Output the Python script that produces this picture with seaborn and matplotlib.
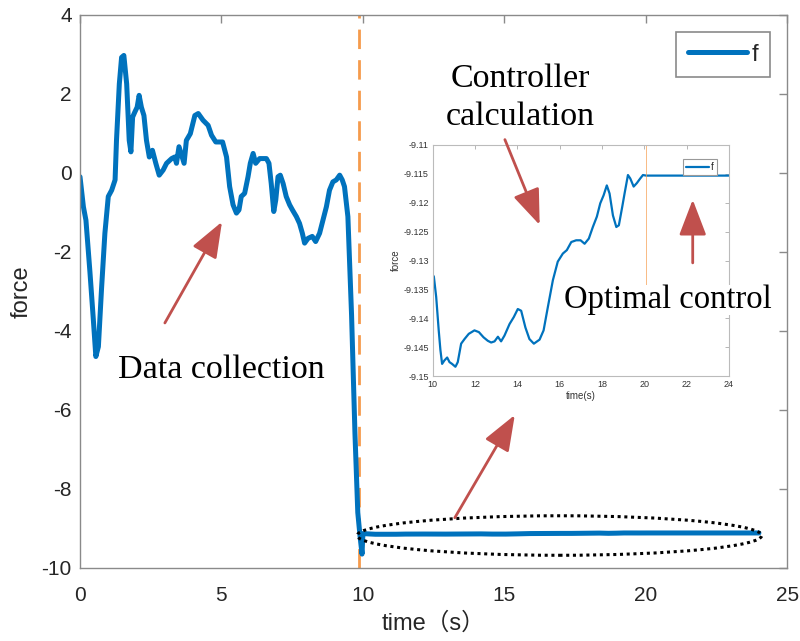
import numpy as np
import pandas as pd
import seaborn as sns
import matplotlib
matplotlib.use("Agg")
import matplotlib.pyplot as plt
from matplotlib.patches import Ellipse, FancyArrowPatch

# ---- data ---------------------------------------------------------------
# data-collection phase (0-10 s)
t_collect = [0.0, 0.12, 0.21, 0.35, 0.47, 0.56, 0.65, 0.76, 0.88, 1.0, 1.12, 1.24,
             1.29, 1.39, 1.47, 1.55, 1.65, 1.74, 1.8, 1.86, 1.94, 2.02, 2.09, 2.17,
             2.26, 2.35, 2.45, 2.56, 2.68, 2.8, 2.94, 3.06, 3.24, 3.35, 3.41, 3.5,
             3.59, 3.68, 3.76, 3.9, 4.06, 4.18, 4.35, 4.53, 4.65, 4.8, 5.04, 5.18,
             5.29, 5.41, 5.53, 5.62, 5.7, 5.82, 5.94, 6.02, 6.12, 6.21, 6.35, 6.59,
             6.68, 6.76, 6.85, 6.92, 7.0, 7.08, 7.18, 7.29, 7.41, 7.51, 7.65, 7.76,
             7.86, 7.94, 8.06, 8.21, 8.33, 8.47, 8.59, 8.71, 8.82, 8.94, 9.06, 9.18,
             9.27, 9.35, 9.47, 9.6, 9.72, 9.82, 9.9, 9.97]
f_collect = [-0.1, -0.86, -1.2, -2.5, -3.7, -4.65, -4.4, -2.95, -1.53, -0.6, -0.44, -0.18,
             0.82, 2.25, 2.92, 2.97, 2.25, 0.82, 0.53, 1.41, 1.54, 1.66, 1.96, 1.66,
             1.45, 0.82, 0.4, 0.57, 0.24, -0.06, 0.07, 0.24, 0.36, 0.4, 0.24, 0.66,
             0.45, 0.24, 0.82, 0.99, 1.45, 1.5, 1.33, 1.2, 0.95, 0.78, 0.78, 0.4,
             -0.35, -0.81, -1.02, -0.94, -0.6, -0.52, -0.1, 0.24, 0.49, 0.24, 0.36, 0.36,
             0.24, -0.27, -0.98, -0.69, -0.1, -0.06, -0.27, -0.6, -0.81, -0.94, -1.11, -1.28,
             -1.53, -1.78, -1.66, -1.61, -1.74, -1.53, -1.19, -0.86, -0.44, -0.23, -0.18, -0.06,
             -0.18, -0.35, -1.11, -3.6, -6.6, -8.6, -9.2, -9.65]

# controller-calculation phase (10-20 s)
t_ctrl = [10.0, 10.05, 10.16, 10.28, 10.36, 10.44, 10.55, 10.68, 10.79, 10.91, 11.07,
          11.18, 11.34, 11.5, 11.7, 11.97, 12.18, 12.4, 12.6, 12.76, 12.92, 13.08,
          13.23, 13.39, 13.63, 13.83, 14.02, 14.18, 14.38, 14.57, 14.78, 15.05, 15.24,
          15.44, 15.68, 15.91, 16.15, 16.34, 16.55, 16.78, 16.99, 17.18, 17.38, 17.57,
          17.76, 17.92, 18.08, 18.23, 18.36, 18.52, 18.68, 18.8, 18.96, 19.07, 19.23,
          19.34, 19.5, 19.65, 19.81, 19.94, 20.09]
f_ctrl = [-9.1325, -9.1328, -9.1363, -9.1421, -9.1455, -9.1479, -9.1473, -9.1468, -9.1476,
          -9.1479, -9.1484, -9.1476, -9.1444, -9.1436, -9.1427, -9.1421, -9.1424, -9.1433,
          -9.1439, -9.1442, -9.144, -9.1432, -9.144, -9.143, -9.141, -9.1398, -9.1384,
          -9.1387, -9.1416, -9.1436, -9.1444, -9.1437, -9.1421, -9.1381, -9.1334, -9.1302,
          -9.1288, -9.1282, -9.1268, -9.1265, -9.1265, -9.1271, -9.1262, -9.1242, -9.1224,
          -9.1201, -9.1187, -9.117, -9.1184, -9.1222, -9.1242, -9.1239, -9.1207, -9.1184,
          -9.1152, -9.1158, -9.1172, -9.1166, -9.1158, -9.1152, -9.1153]

# optimal-control phase (20-24 s): constant force
t_opt = [20.09, 22.0, 24.0]
f_opt = [-9.1153, -9.1153, -9.1153]

switch_time = 9.85
inset_marker_time = 20.1

x_ticks = [0, 5, 10, 15, 20, 25]
y_ticks = [-10, -8, -6, -4, -2, 0, 2, 4]
inset_x_ticks = [10, 12, 14, 16, 18, 20, 22, 24]
inset_y_ticks = [-9.15, -9.145, -9.14, -9.135, -9.13, -9.125, -9.12, -9.115, -9.11]
inset_y_labels = ["-9.15", "-9.145", "-9.14", "-9.135", "-9.13", "-9.125", "-9.12", "-9.115", "-9.11"]

full = pd.DataFrame({"time": t_collect + t_ctrl + t_opt[1:],
                     "force": f_collect + f_ctrl + f_opt[1:]})
zoomed = pd.DataFrame({"time": t_ctrl + t_opt[1:], "force": f_ctrl + f_opt[1:]})

# ---- style --------------------------------------------------------------
sns.set_style("white")
plt.rcParams["font.family"] = ["Liberation Sans", "Noto Sans CJK SC", "DejaVu Sans"]
plt.rcParams["axes.unicode_minus"] = False

BLUE = "#0072BD"
ORANGE = "#F59B4C"
ARROW = "#C0504D"
FRAME = "#8a8a8a"
TXT = "#262626"

fig = plt.figure(figsize=(8, 6.41), dpi=100)
ax = fig.add_axes([0.1, 0.114, 0.884, 0.863])

sns.lineplot(data=full, x="time", y="force", ax=ax, color=BLUE, linewidth=3.6,
             label="f", estimator=None, sort=False)
ax.axvline(switch_time, color=ORANGE, linewidth=2, dashes=(7, 4), zorder=1)

ax.set_xlim(0, 25)
ax.set_ylim(-10, 4)
ax.set_xticks(x_ticks)
ax.set_yticks(y_ticks)
ax.tick_params(direction="in", length=6, width=1, colors=FRAME, labelcolor=TXT,
               labelsize=15, top=True, right=True, pad=6)
ax.tick_params(axis="x", pad=13)
for s in ax.spines.values():
    s.set_color(FRAME)
    s.set_linewidth(1)
ax.set_xlabel("time（s）", fontsize=17, color=TXT, labelpad=5)
ax.set_ylabel("force", fontsize=17, color=TXT, labelpad=6)

leg = ax.legend(loc="upper right", fontsize=17, handlelength=2.5, handletextpad=0.2,
                fancybox=False, framealpha=1, borderpad=0.5, borderaxespad=0.72)
leg.get_frame().set_edgecolor(FRAME)
leg.get_frame().set_linewidth(1.2)

# dotted ellipse around the steady part
ax.add_patch(Ellipse((16.95, -9.18), width=14.3, height=1.0, fill=False,
                     edgecolor="black", linestyle=(0, (1, 1.2)), linewidth=2.2, zorder=4))

# ---- inset: zoom of the 10-24 s part -----------------------------------
ins = fig.add_axes([0.541, 0.4134, 0.37, 0.3604])
ins.set_facecolor("white")
sns.lineplot(data=zoomed, x="time", y="force", ax=ins, color=BLUE, linewidth=1.6,
             label="f", estimator=None, sort=False)
ins.plot([inset_marker_time, inset_marker_time], [-9.11, -9.1365],
         color=ORANGE, linewidth=0.6, alpha=0.8)
ins.set_xlim(10, 24)
ins.set_ylim(-9.15, -9.11)
ins.set_xticks(inset_x_ticks)
ins.set_yticks(inset_y_ticks)
ins.set_yticklabels(inset_y_labels)
ins.tick_params(direction="in", length=3, width=0.6, colors="#aaaaaa",
                labelcolor="#333333", labelsize=6.5, top=True, right=True, pad=3)
for s in ins.spines.values():
    s.set_color("#bbbbbb")
    s.set_linewidth(0.8)
ins.set_xlabel("time(s)", fontsize=7, color="#333333", labelpad=1)
ins.set_ylabel("force", fontsize=7, color="#333333", labelpad=2)
ileg = ins.legend(loc="upper right", fontsize=7, handlelength=2.4, handletextpad=0.2,
                  fancybox=False, framealpha=1, borderpad=0.3,
                  bbox_to_anchor=(0.975, 0.96))
ileg.get_frame().set_edgecolor("#999999")
ileg.get_frame().set_linewidth(0.8)

# ---- annotations (drawn above both axes) --------------------------------
serif = ["Liberation Serif", "DejaVu Serif"]
fig.text(4.98, -4.99, "Data collection", transform=ax.transData, fontsize=24.5,
         family=serif, ha="center", va="center", color="black", zorder=10)
fig.text(15.55, 1.9, "Controller\ncalculation", transform=ax.transData, fontsize=24.5,
         family=serif, ha="center", va="center", color="black", linespacing=1.35, zorder=10)
fig.text(20.78, -3.22, "Optimal control", transform=ax.transData, fontsize=23.5,
         family=serif, ha="center", va="center", color="black", zorder=10,
         bbox=dict(facecolor="white", edgecolor="none", pad=0))

arrows = [((3.0, -3.8), (5.02, -1.24)),
          ((13.25, -8.73), (15.37, -6.13)),
          ((15.02, 0.84), (16.25, -1.32)),
          ((21.66, -2.28), (21.66, -0.68))]
for tail, tip in arrows:
    fig.add_artist(FancyArrowPatch(tail, tip, transform=ax.transData,
                                   arrowstyle="-|>,head_length=1.1,head_width=0.42",
                                   mutation_scale=20, color=ARROW, linewidth=2,
                                   shrinkA=0, shrinkB=0, zorder=11))

fig.savefig("out.png", dpi=100)
